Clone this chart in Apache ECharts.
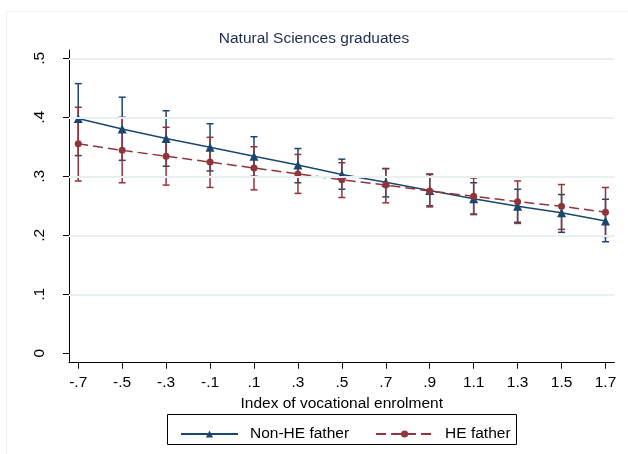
<!DOCTYPE html>
<html>
<head>
<meta charset="utf-8">
<script src="https://cdn.jsdelivr.net/npm/echarts@6/dist/echarts.min.js"></script>
<style>
  html, body { margin: 0; padding: 0; background: #ffffff; }
  #chart { width: 628px; height: 454px; }
</style>
</head>
<body>
<div id="chart"></div>
<script>
// Index of vocational enrolment (x positions)
const xVals = [-0.7, -0.5, -0.3, -0.1, 0.1, 0.3, 0.5, 0.7, 0.9, 1.1, 1.3, 1.5, 1.7];
const yTicks = [0, 0.1, 0.2, 0.3, 0.4, 0.5];

// Non-HE father: predicted share with confidence interval
const nonHE   = [0.398, 0.380, 0.364, 0.349, 0.334, 0.319, 0.303, 0.290, 0.276, 0.262, 0.249, 0.238, 0.224];
const nonHELo = [0.335, 0.327, 0.317, 0.309, 0.300, 0.289, 0.278, 0.265, 0.250, 0.236, 0.222, 0.205, 0.189];
const nonHEHi = [0.457, 0.434, 0.411, 0.389, 0.367, 0.347, 0.329, 0.313, 0.303, 0.289, 0.278, 0.269, 0.261];

// HE father: predicted share with confidence interval
const he   = [0.355, 0.344, 0.334, 0.324, 0.314, 0.304, 0.294, 0.285, 0.275, 0.266, 0.257, 0.249, 0.239];
const heLo = [0.292, 0.289, 0.285, 0.281, 0.277, 0.271, 0.264, 0.255, 0.248, 0.235, 0.220, 0.210, 0.198];
const heHi = [0.417, 0.400, 0.383, 0.366, 0.350, 0.337, 0.323, 0.313, 0.304, 0.297, 0.292, 0.286, 0.281];

const BLUE = '#1a476f';
const RED = '#90353b';
const FONT = 'Liberation Sans, Arial, sans-serif';
const FS = 15.5;

function stataNum(v) {
  const r = Math.round(v * 10) / 10;
  if (r === 0) return '0';
  return r.toString().replace(/^(-?)0\./, '$1.');
}

function capSeries(name, lo, hi, color) {
  return {
    name: name,
    type: 'custom',
    silent: true,
    data: xVals.map((x, i) => [x, lo[i], hi[i]]),
    encode: { x: 0, y: [1, 2] },
    renderItem: function (params, api) {
      const x = api.value(0);
      const pLo = api.coord([x, api.value(1)]);
      const pHi = api.coord([x, api.value(2)]);
      const w = 3.5;
      const style = { stroke: color, lineWidth: 1.5, fill: 'none' };
      return {
        type: 'group',
        children: [
          { type: 'line', shape: { x1: pLo[0], y1: pLo[1], x2: pHi[0], y2: pHi[1] }, style: style },
          { type: 'line', shape: { x1: pLo[0] - w, y1: pLo[1], x2: pLo[0] + w, y2: pLo[1] }, style: style },
          { type: 'line', shape: { x1: pHi[0] - w, y1: pHi[1], x2: pHi[0] + w, y2: pHi[1] }, style: style }
        ]
      };
    },
    z: 2
  };
}

const chart = echarts.init(document.getElementById('chart'), null, { renderer: 'canvas' });

chart.setOption({
  animation: false,
  backgroundColor: '#ffffff',
  textStyle: { fontFamily: FONT },
  title: {
    text: 'Natural Sciences graduates',
    left: 'center',
    top: 26,
    textStyle: { fontSize: FS, fontWeight: 'normal', color: '#1e2d4f', fontFamily: FONT }
  },
  graphic: [
    { type: 'rect', shape: { x: 6.5, y: 11.5, width: 700, height: 500 }, style: { fill: 'none', stroke: '#eeeeee', lineWidth: 1 }, silent: true, z: -1 },
    { type: 'rect', shape: { x: 167.5, y: 414.5, width: 349, height: 30 }, style: { fill: 'none', stroke: '#000000', lineWidth: 1 }, silent: true }
  ],
  legend: {
    data: ['Non-HE father', 'HE father'],
    left: 175,
    top: 421,
    itemWidth: 57,
    itemHeight: 9,
    itemGap: 26,
    textStyle: { fontSize: FS, color: '#000000', padding: [0, 0, 0, 7], fontFamily: FONT },
    selectedMode: false
  },
  grid: { left: 69, right: 13.5, top: 50, bottom: 91.3, containLabel: false },
  xAxis: {
    type: 'value',
    min: -0.742,
    max: 1.741,
    name: 'Index of vocational enrolment',
    nameLocation: 'middle',
    nameGap: 26,
    nameTextStyle: { fontSize: FS, color: '#000000', fontFamily: FONT },
    axisLine: { show: true, onZero: false, lineStyle: { color: '#000000', width: 1 } },
    axisTick: { show: true, customValues: xVals, length: 6, lineStyle: { color: '#000000' } },
    axisLabel: { customValues: xVals, formatter: stataNum, fontSize: FS, color: '#000000', margin: 12 },
    splitLine: { show: false }
  },
  yAxis: {
    type: 'value',
    min: -0.016,
    max: 0.514,
    axisLine: { show: true, onZero: false, lineStyle: { color: '#000000', width: 1 } },
    axisTick: { show: true, customValues: yTicks, length: 6, lineStyle: { color: '#000000' } },
    axisLabel: { customValues: yTicks, formatter: stataNum, fontSize: FS, color: '#000000', rotate: 90, margin: 21 },
    splitLine: { show: false }
  },
  series: [
    {
      name: 'grid',
      type: 'line',
      data: [],
      silent: true,
      z: 0,
      markLine: {
        silent: true,
        symbol: 'none',
        label: { show: false },
        lineStyle: { color: '#eaf0f1', width: 1.8, type: 'solid' },
        data: yTicks.filter(v => v > 0).map(v => ({ yAxis: v }))
      }
    },
    capSeries('Non-HE CI', nonHELo, nonHEHi, BLUE),
    capSeries('HE CI', heLo, heHi, RED),
    {
      name: 'Non-HE father',
      type: 'line',
      data: xVals.map((x, i) => [x, nonHE[i]]),
      symbol: 'triangle',
      symbolSize: 9,
      itemStyle: { color: BLUE },
      lineStyle: { color: BLUE, width: 1.5 },
      z: 3
    },
    {
      name: 'HE father',
      type: 'line',
      data: xVals.map((x, i) => [x, he[i]]),
      symbol: 'circle',
      symbolSize: 7,
      itemStyle: { color: RED },
      lineStyle: { color: RED, width: 1.5, type: [10, 5] },
      z: 4
    }
  ]
});
</script>
</body>
</html>
